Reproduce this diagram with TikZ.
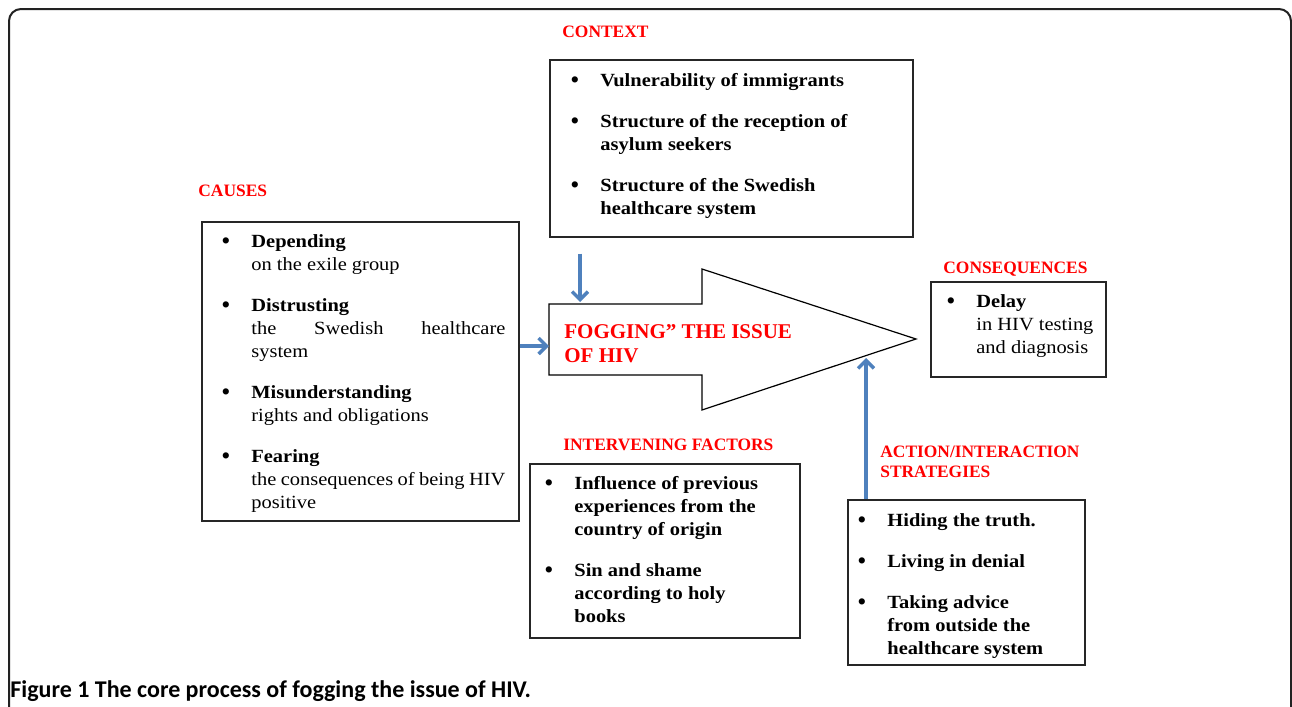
\documentclass[tikz,border=0pt]{standalone}
\usepackage{fontspec}
\setmainfont{Liberation Serif}
\newfontfamily\boxfont[FakeStretch=1.1]{Liberation Serif}
\newfontfamily\capfont{Carlito}
\usetikzlibrary{arrows.meta}
\definecolor{flowblue}{HTML}{4F81BD}
\definecolor{framegray}{HTML}{222222}
% one bullet line of a box, and the list around it
\newcommand{\bitem}[1]{\par\noindent\hangindent=13.5pt\hangafter=0%
  \llap{\strut\raisebox{-0.9pt}{\normalfont\fontsize{13}{11.5}\selectfont\textbullet}\hspace{10.5pt}}{#1}}
\newcommand{\boxlist}[2]{\parbox[t]{#1}{\parskip=9pt\relax #2}}
\tikzset{>=latex}

\begin{document}
\begin{tikzpicture}[x=0.5pt, y=-0.5pt,
  frame/.style={draw=black!85, line width=0.75pt, anchor=north west, inner sep=0pt},
  listtext/.style={anchor=north west, inner sep=0pt, font=\boxfont\fontsize{9.3}{11.5}\selectfont},
  tag/.style={anchor=base west, inner sep=0pt, text=red, font=\fontsize{8.7}{10}\selectfont\bfseries},
  flow/.style={draw=flowblue, line width=1.7pt, -{Straight Barb[length=4pt,width=8pt]}}]
  \useasboundingbox (0,0) rectangle (1292,707);
  % outer frame
  \draw[framegray, line width=1pt, rounded corners=6pt] (9,730) -- (9,9) -- (1291,9) -- (1291,730);

  % boxes
  \node[frame, minimum width=181.5pt, minimum height=88.5pt] (ctx) at (549,59) {};
  \node[frame, minimum width=158.5pt, minimum height=149.5pt] (cause) at (201,221) {};
  \node[frame, minimum width=87.5pt, minimum height=47.5pt] (cons) at (930,281) {};
  \node[frame, minimum width=135pt, minimum height=87pt] (interv) at (529,463) {};
  \node[frame, minimum width=118.5pt, minimum height=82.5pt] (action) at (847,499) {};

  % labels
  \node[tag] (ctxtag) at (562,37) {CONTEXT};
  \node[tag] (causetag) at (198,196) {CAUSES};
  \node[tag] (constag) at (943,273) {CONSEQUENCES};
  \node[tag] (intervtag) at (563,450) {INTERVENING FACTORS};
  \node[tag, anchor=north west, align=left, font=\fontsize{8.7}{10}\selectfont\bfseries] (actiontag) at (880,446) {ACTION/INTERACTION\\STRATEGIES};

  % box texts
  \node[listtext] (ctxtext) at (573,70) {\boxlist{165.5pt}{%
    \bitem{\bfseries Vulnerability of immigrants}
    \bitem{\bfseries Structure of the reception of\\asylum seekers}
    \bitem{\bfseries Structure of the Swedish\\healthcare system}}};
  \node[listtext] (causetext) at (224,231) {\boxlist{140.5pt}{%
    \bitem{\textbf{Depending}\\on the exile group}
    \bitem{\textbf{Distrusting}\\the\hfill Swedish\hfill healthcare\\system}
    \bitem{\textbf{Misunderstanding}\\rights and obligations}
    \bitem{\textbf{Fearing}\\the consequences of being HIV\\positive}}};
  \node[listtext] (constext) at (949,291) {\boxlist{74.5pt}{%
    \bitem{\textbf{Delay}\\in HIV testing\\and diagnosis}}};
  \node[listtext] (intervtext) at (547,473) {\boxlist{121.5pt}{%
    \bitem{\bfseries Influence of previous\\experiences from the\\country of origin}
    \bitem{\bfseries Sin and shame\\according to holy\\books}}};
  \node[listtext] (actiontext) at (860,510) {\boxlist{109pt}{%
    \bitem{\bfseries Hiding the truth.}
    \bitem{\bfseries Living in denial}
    \bitem{\bfseries Taking advice\\from outside the\\healthcare system}}};

  % core process arrow
  \draw[line width=0.6pt] (549,304) -- (702,304) -- (702,269) -- (916,339)
    -- (702,410) -- (702,375) -- (549,375) -- cycle;
  \node[anchor=north west, inner sep=0pt, align=left, text=red,
    font=\fontsize{10.5}{12}\selectfont\bfseries] (fog) at (564,324) {FOGGING'' THE ISSUE\\OF HIV};

  % arrows into the core process
  \coordinate (inL) at (549,346);
  \coordinate (inT) at (580,302);
  \coordinate (inB) at (866,358);
  \draw[flow] (cause.east |- inL) -- (inL);
  \draw[flow] ([yshift=-8pt]ctx.south -| inT) -- (inT);
  \draw[flow] (action.north -| inB) -- (inB);

  % caption
  \node[anchor=base west, inner sep=0pt, font=\capfont\fontsize{12}{14}\selectfont\bfseries] (caption) at (10,697)
    {Figure 1 The core process of fogging the issue of HIV.};
\end{tikzpicture}
\end{document}
